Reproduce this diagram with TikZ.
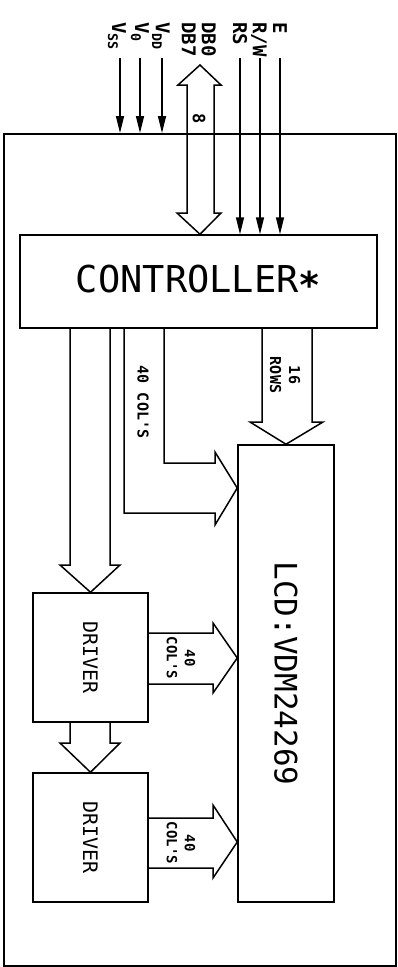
\documentclass[tikz,border=0pt]{standalone}
\usepackage{fontspec}
\usepackage{graphicx}
\newfontfamily\cadfont{DejaVu Sans Mono}
\usetikzlibrary{arrows.meta}
\newcommand{\cadsize}[2]{\fontsize{#1}{#2}\selectfont}

\tikzset{
  box/.style={draw, line width=1.5pt, inner sep=0pt},
  bus/.style={draw, line width=1.5pt},
  sig/.style={line width=1.5pt, -{Triangle[length=17pt,width=8pt]}},
  pinlbl/.style={rotate=-90, anchor=west, inner sep=0pt, align=left, font=\cadfont\bfseries\cadsize{19}{20}},
  buslbl/.style={rotate=-90, inner sep=0pt, align=center, font=\cadfont\bfseries\cadsize{15}{19}}
}

\begin{document}
\begin{tikzpicture}[x=1pt,y=-1pt]
    \useasboundingbox (0,0) rectangle (398,967);

    % Module outline
    \node[box, anchor=north west, minimum width=392pt, minimum height=832pt] (board) at (3,133) {};

    % Blocks
    \node[box, minimum width=357pt, minimum height=93pt, font=\cadfont\cadsize{37}{37}] (ctrl) at (198.5,281.5) {CONTROLLER\raisebox{-0.17em}{\bfseries*}};
    \node[box, minimum width=96pt, minimum height=457pt] (lcd) at (286,673.5) {\rotatebox{-90}{\cadfont\cadsize{31}{31}LCD:VDM24269}};
    \node[box, minimum width=115pt, minimum height=129pt] (drv1) at (90.5,657.5) {\rotatebox{-90}{\cadfont\cadsize{20}{20}DRIVER}};
    \node[box, minimum width=115pt, minimum height=129pt] (drv2) at (90.5,837.5) {\rotatebox{-90}{\cadfont\cadsize{20}{20}DRIVER}};

    % Supply pins
    \foreach \x/\pin in {120/vss,140/vo,162/vdd} {
        \coordinate (\pin) at (\x,58);
        \draw[sig] (\pin) -- (\pin |- board.north);
    }
    \node[pinlbl] (vsslbl) at (117,22) {V\textsubscript{SS}};
    \node[pinlbl] (volbl) at (140,22) {V\textsubscript{0}};
    \node[pinlbl] (vddlbl) at (161,22) {V\textsubscript{DD}};

    % Control pins
    \foreach \x/\pin in {240/rs,260/rw,280/en} {
        \coordinate (\pin) at (\x,58);
        \draw[sig] (\pin) -- (\pin |- ctrl.north);
    }
    \node[pinlbl] (rslbl) at (240,22) {RS};
    \node[pinlbl] (rwlbl) at (259,22) {R/W};
    \node[pinlbl] (enlbl) at (280,22) {E};

    % Data bus
    \draw[bus] (200,65) -- (221,85) -- (214,85) -- (214,213) -- (221,213) -- (ctrl.north -| 200,0)
        -- (177,213) -- (187,213) -- (187,85) -- (178,85) -- cycle;
    \node[pinlbl] (dblbl) at (199,22) {DB0\\DB7};
    \node[buslbl, font=\cadfont\bfseries\cadsize{17}{17}] (dbw) at (199,119) {8};

    % Controller to drivers
    \draw[bus] (ctrl.south -| 70,0) -- (70,565) -- (60,565) -- (drv1.north) -- (120,565) -- (110,565) -- (ctrl.south -| 110,0);
    \draw[bus] (drv1.south -| 70,0) -- (70,743) -- (60,743) -- (drv2.north) -- (120,743) -- (110,743) -- (drv1.south -| 110,0);

    % Controller columns
    \draw[bus] (ctrl.south -| 124,0) -- (124,513) -- (215,513) -- (215,525) -- (lcd.west |- 0,488)
        -- (215,452) -- (215,463) -- (164,463) -- (ctrl.south -| 164,0);
    \node[buslbl] (colctrl) at (143,402) {40 COL'S};

    % Controller rows
    \draw[bus] (ctrl.south -| 262,0) -- (262,422) -- (250,422) -- (lcd.north) -- (323,422) -- (312,422) -- (ctrl.south -| 312,0);
    \node[buslbl] (rows) at (285,375) {16\\ROWS};

    % Driver columns
    \draw[bus] (drv1.east |- 0,633) -- (213,633) -- (213,623) -- (lcd.west |- 0,658)
        -- (213,693) -- (213,684) -- (drv1.east |- 0,684);
    \node[buslbl, font=\cadfont\bfseries\cadsize{14}{18}] (col1) at (181,658) {40\\COL'S};
    \draw[bus] (drv2.east |- 0,818) -- (213,818) -- (213,805) -- (lcd.west |- 0,842)
        -- (213,878) -- (213,868) -- (drv2.east |- 0,868);
    \node[buslbl, font=\cadfont\bfseries\cadsize{14}{18}] (col2) at (181,843) {40\\COL'S};
\end{tikzpicture}
\end{document}
